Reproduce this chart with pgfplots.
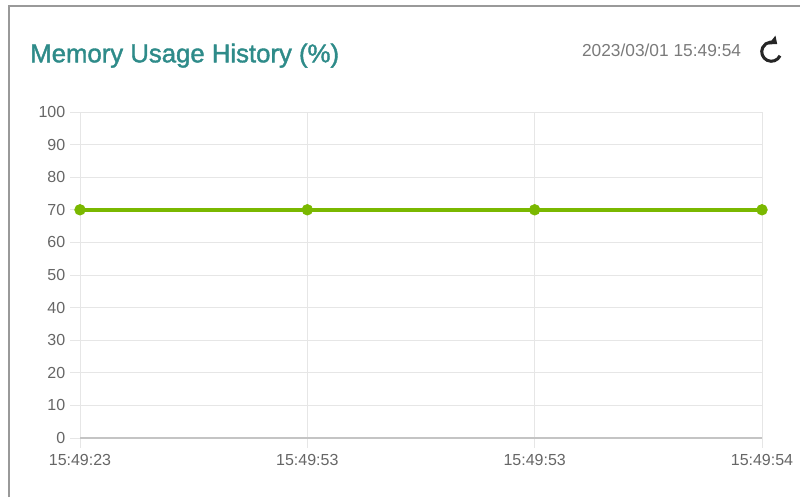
\documentclass[border=0pt]{standalone}
\usepackage{pgfplots}
\pgfplotsset{compat=1.18}
\usepackage{fontspec}
\setmainfont{Liberation Sans}
\newfontfamily\titlefont[FakeBold=1.5]{Liberation Sans}
\usetikzlibrary{arrows.meta}
\definecolor{titlecol}{HTML}{2E8B89}
\definecolor{linecol}{HTML}{7AB800}
\definecolor{gridcol}{HTML}{E6E6E6}
\definecolor{tickcol}{HTML}{666666}
\definecolor{datecol}{HTML}{7A7A7A}
\definecolor{framecol}{HTML}{999999}
\begin{document}
\begin{tikzpicture}
\useasboundingbox (0,0) rectangle (600pt,372.75pt);
\draw[framecol, line width=1.5pt] (6.5pt,0) -- (6.5pt,368.6pt) -- (600pt,368.6pt);
\node[anchor=base west, text=titlecol, font=\titlefont\fontsize{19.3}{21}\selectfont, inner sep=0pt] at (22.5pt,326pt) {Memory Usage History (\%)};
\node[anchor=base east, text=datecol, font=\fontsize{13}{15}\selectfont, inner sep=0pt] at (556pt,330pt) {2023/03/01 15:49:54};
\draw[line width=2.3pt, black!85, -{Triangle[length=5pt,width=8pt]}] (578.5pt,334pt) ++(-25:7.2pt) arc[start angle=-25, end angle=-308, radius=7.2pt];
\begin{axis}[
  at={(60pt,44.25pt)}, anchor=south west,
  scale only axis, width=511.5pt, height=244.5pt,
  xmin=0, xmax=3, ymin=0, ymax=100,
  xtick={0,1,2,3},
  xticklabels={15:49:23,15:49:53,15:49:53,15:49:54},
  ytick={0,10,...,100},
  grid=major,
  major grid style={gridcol, line width=0.75pt},
  axis line style={draw=none},
  tick style={gridcol, line width=0.75pt},
  major tick length=7.5pt,
  tick align=outside,
  xtick pos=bottom, ytick pos=left,
  tick label style={text=tickcol, font=\fontsize{12}{14}\selectfont},
  /pgf/number format/assume math mode=true,
  xticklabel style={yshift=-1pt},
  clip=false,
]
\draw[gridcol!85!black, line width=0.9pt] (axis cs:0,0) -- (axis cs:3,0);
\addplot[linecol, line width=3.2pt, mark=*, mark options={solid, fill=linecol, draw=linecol, line width=0.5pt}, mark size=4pt] coordinates {(0,70) (1,70) (2,70) (3,70)};
\end{axis}
\end{tikzpicture}
\end{document}
